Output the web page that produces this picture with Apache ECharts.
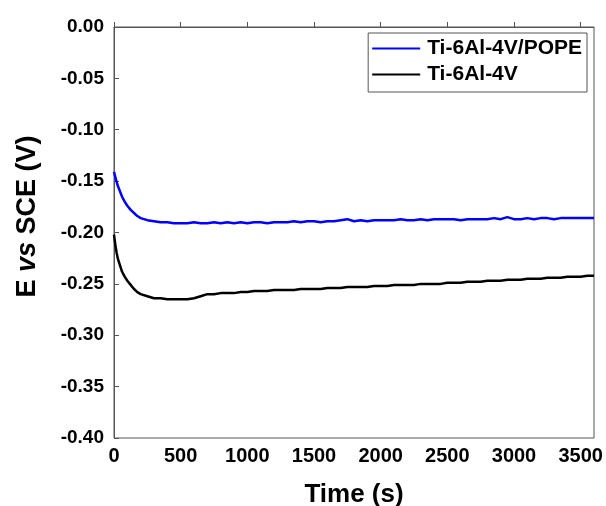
<!DOCTYPE html>
<html>
<head>
<meta charset="utf-8">
<script src="https://cdn.jsdelivr.net/npm/echarts@6/dist/echarts.min.js"></script>
<style>html,body{margin:0;padding:0;background:#fff}#c{width:606px;height:506px}</style>
</head>
<body>
<div id="c"></div>
<script>
var seriesNames = ['Ti-6Al-4V/POPE', 'Ti-6Al-4V'];
var timeS = [0,10,20,30,45,60,80,100,125,150,175,200,250,300,350,400,450,500,550,600,650,700,750,800,850,900,950,1000,1050,1100,1150,1200,1250,1300,1350,1400,1450,1500,1550,1600,1650,1700,1750,1800,1850,1900,1950,2000,2050,2100,2150,2200,2250,2300,2350,2400,2450,2500,2550,2600,2650,2700,2750,2800,2850,2900,2950,3000,3050,3100,3150,3200,3250,3300,3350,3400,3450,3500,3550,3600];
var popeE = [-0.141,-0.146,-0.151,-0.155,-0.160,-0.165,-0.170,-0.174,-0.178,-0.181,-0.184,-0.186,-0.188,-0.189,-0.190,-0.190,-0.191,-0.191,-0.191,-0.190,-0.191,-0.191,-0.190,-0.191,-0.190,-0.191,-0.190,-0.191,-0.190,-0.190,-0.191,-0.190,-0.190,-0.190,-0.189,-0.190,-0.189,-0.189,-0.190,-0.189,-0.189,-0.188,-0.187,-0.189,-0.188,-0.189,-0.188,-0.188,-0.188,-0.188,-0.187,-0.188,-0.188,-0.187,-0.188,-0.187,-0.187,-0.187,-0.187,-0.188,-0.187,-0.187,-0.187,-0.187,-0.186,-0.187,-0.185,-0.187,-0.187,-0.186,-0.187,-0.186,-0.186,-0.187,-0.186,-0.186,-0.186,-0.186,-0.186,-0.186];
var bareE = [-0.202,-0.212,-0.220,-0.226,-0.232,-0.238,-0.243,-0.247,-0.251,-0.255,-0.258,-0.260,-0.262,-0.264,-0.264,-0.265,-0.265,-0.265,-0.265,-0.264,-0.262,-0.260,-0.260,-0.259,-0.259,-0.259,-0.258,-0.258,-0.257,-0.257,-0.257,-0.256,-0.256,-0.256,-0.256,-0.255,-0.255,-0.255,-0.255,-0.254,-0.254,-0.254,-0.253,-0.253,-0.253,-0.253,-0.252,-0.252,-0.252,-0.251,-0.251,-0.251,-0.251,-0.250,-0.250,-0.250,-0.250,-0.249,-0.249,-0.249,-0.248,-0.248,-0.248,-0.247,-0.247,-0.247,-0.246,-0.246,-0.246,-0.245,-0.245,-0.245,-0.244,-0.244,-0.244,-0.243,-0.243,-0.243,-0.242,-0.242];

function pairs(xs, ys){ return xs.map(function(x,i){ return [x, ys[i]]; }); }

var chart = echarts.init(document.getElementById('c'), null, {renderer:'canvas'});
var axisCol = '#555';
var FF = 'Arial, "Liberation Sans", sans-serif';
chart.setOption({
  animation:false,
  backgroundColor:'#fff',
  grid:{left:114, right:12, top:27, bottom:68, show:true, borderColor:axisCol, borderWidth:1, containLabel:false, outerBoundsMode:'none'},
  legend:{
    orient:'vertical', right:19, top:33, padding:[5,5,7,4], itemGap:5,
    borderColor:axisCol, borderWidth:1, itemWidth:48, itemHeight:2, icon:'rect',
    textStyle:{color:'#000', fontFamily:FF, fontWeight:'bold', fontSize:21, padding:[0,0,0,2]},
    data:seriesNames
  },
  xAxis:{
    type:'value', min:0, max:3600, interval:500,
    name:'Time (s)', nameLocation:'middle', nameGap:44,
    nameTextStyle:{color:'#000', fontFamily:FF, fontWeight:'bold', fontSize:26},
    axisLine:{show:true, lineStyle:{color:axisCol, width:1}},
    axisTick:{show:true, inside:true, length:5, lineStyle:{color:axisCol}},
    axisLabel:{margin:8, showMaxLabel:false, color:'#000', fontFamily:FF, fontWeight:'bold', fontSize:20, formatter:function(v){return String(v);}},
    splitLine:{show:false}
  },
  yAxis:{
    type:'value', min:-0.4, max:0, interval:0.05,
    name:'{b|E }{i|vs}{b| SCE (V)}', nameLocation:'middle', nameGap:73, nameRotate:90,
    nameTextStyle:{padding:[0,0,0,32], rich:{
      b:{color:'#000', fontFamily:FF, fontWeight:'bold', fontSize:27},
      i:{color:'#000', fontFamily:FF, fontWeight:'bold', fontStyle:'italic', fontSize:27}
    }},
    axisLine:{show:true, lineStyle:{color:axisCol, width:1}},
    axisTick:{show:true, inside:true, length:5, lineStyle:{color:axisCol}},
    axisLabel:{margin:10, color:'#000', fontFamily:FF, fontWeight:'bold', fontSize:19, formatter:function(v){return v.toFixed(2);}},
    splitLine:{show:false}
  },
  series:[
    {name:seriesNames[0], type:'line', data:pairs(timeS, popeE), showSymbol:false, symbol:'none', lineStyle:{color:'#0000ff', width:2.5}, itemStyle:{color:'#0000ff'}},
    {name:seriesNames[1], type:'line', data:pairs(timeS, bareE), showSymbol:false, symbol:'none', lineStyle:{color:'#000000', width:2.5}, itemStyle:{color:'#000000'}}
  ]
});
</script>
</body>
</html>
